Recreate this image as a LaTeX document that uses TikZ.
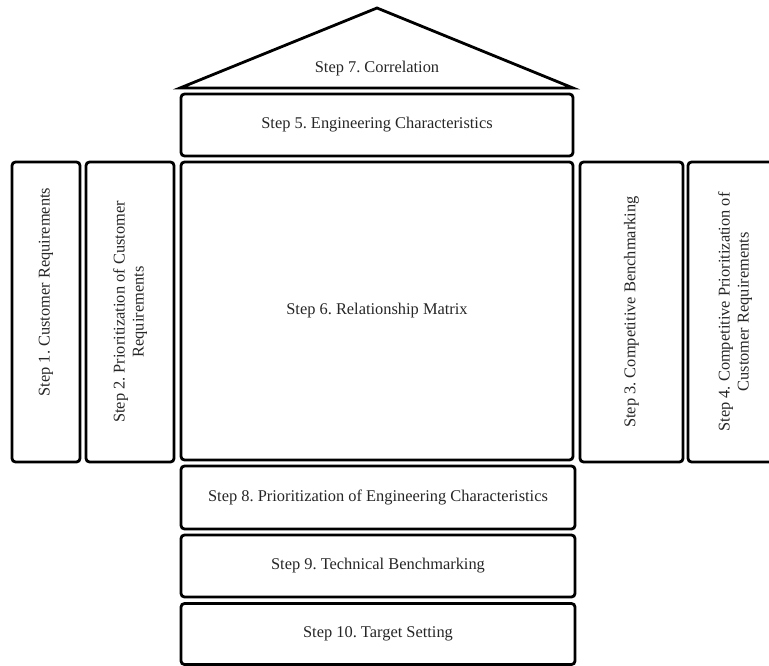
\documentclass[tikz,border=0pt]{standalone}
\usepackage{fontspec}
\setmainfont{Liberation Serif}
\frenchspacing
\tikzset{
  stepbox/.style={draw=black, line width=2.8pt, rounded corners=3.5pt, inner sep=2pt,
    font=\fontsize{16.4}{19}\selectfont, text=black!85, align=center},
  vbox/.style={stepbox, rotate=90},
  roof/.style={draw=black, line width=2.8pt, line join=miter},
  rooftext/.style={font=\fontsize{16.4}{19}\selectfont, text=black!85}
}
\begin{document}
\begin{tikzpicture}[x=1pt,y=-1pt]
\useasboundingbox (0,0) rectangle (769,666);
\begin{scope}
\clip (0,0) rectangle (769,666);
% roof
\coordinate (rl) at (180,88);
\coordinate (rt) at (377,8);
\coordinate (rr) at (573,88);
\draw[roof] (rl) -- (rt) -- (rr) -- cycle;
\node[rooftext] (s7) at (377,69) {Step 7. Correlation};
% horizontal boxes
\node[stepbox, minimum width=392pt, minimum height=62pt] (s5) at (377,125) {Step 5. Engineering Characteristics};
\node[stepbox, minimum width=392pt, minimum height=298pt] (s6) at (377,311) {Step 6. Relationship Matrix};
\node[stepbox, minimum width=394pt, minimum height=63pt] (s8) at (378,497.5) {Step 8. Prioritization of Engineering Characteristics};
\node[stepbox, minimum width=394pt, minimum height=62pt] (s9) at (378,566) {Step 9. Technical Benchmarking};
\node[stepbox, minimum width=394pt, minimum height=61pt] (s10) at (378,634) {Step 10. Target Setting};
% vertical boxes
\node[vbox, minimum width=300pt, minimum height=68pt] (s1) at (46,312) {\hspace*{40pt}Step 1. Customer Requirements};
\node[vbox, minimum width=300pt, minimum height=88pt] (s2) at (130,312) {Step 2. Prioritization of Customer\\Requirements};
\node[vbox, minimum width=300pt, minimum height=103pt] (s3) at (631.5,312) {Step 3. Competitive Benchmarking};
\node[vbox, minimum width=300pt, minimum height=94pt] (s4) at (735,312) {Step 4. Competitive Prioritization of\\Customer Requirements};
\end{scope}
\end{tikzpicture}
\end{document}
